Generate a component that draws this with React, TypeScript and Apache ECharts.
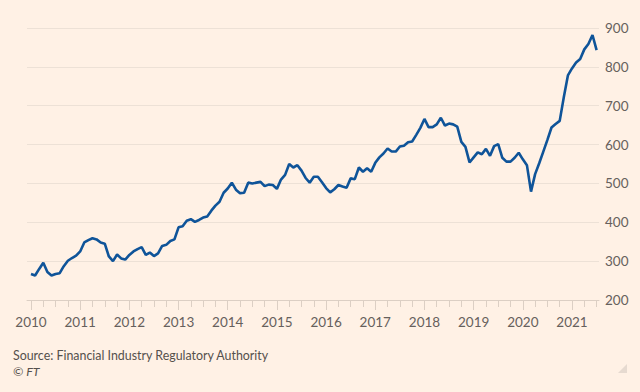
import { useEffect, useRef } from "react";
import * as echarts from "echarts";

// Monthly margin debt ($bn), Jan of each year onwards
const y2010 = [267, 263, 280, 296, 272, 263, 267, 269, 287, 301, 308, 314];
const y2011 = [325, 348, 354, 359, 356, 348, 345, 312, 300, 317, 307, 304];
const y2012 = [316, 325, 331, 336, 316, 322, 313, 320, 339, 342, 352, 356];
const y2013 = [387, 390, 404, 408, 401, 406, 412, 415, 430, 443, 453, 476];
const y2014 = [487, 502, 484, 475, 476, 502, 500, 502, 504, 493, 497, 496];
const y2015 = [486, 510, 522, 550, 541, 547, 533, 514, 502, 517, 517, 503];
const y2016 = [488, 477, 485, 496, 492, 489, 513, 511, 541, 530, 539, 530];
const y2017 = [553, 567, 577, 590, 582, 582, 595, 597, 606, 608, 625, 643];
const y2018 = [666, 645, 645, 652, 669, 649, 654, 652, 646, 607, 594, 554];
const y2019 = [567, 580, 575, 589, 571, 596, 601, 566, 556, 556, 566, 579];
const y2020 = [562, 547, 479, 524, 552, 582, 612, 644, 653, 661, 722, 778];
const y2021 = [796, 811, 820, 845, 859, 882, 843];

const yearSeries = [y2010, y2011, y2012, y2013, y2014, y2015, y2016, y2017, y2018, y2019, y2020, y2021];
const yearLabels = [2010, 2011, 2012, 2013, 2014, 2015, 2016, 2017, 2018, 2019, 2020, 2021];
const quarterTicks = [
  2010, 2010.25, 2010.5, 2010.75, 2011, 2011.25, 2011.5, 2011.75, 2012, 2012.25, 2012.5, 2012.75,
  2013, 2013.25, 2013.5, 2013.75, 2014, 2014.25, 2014.5, 2014.75, 2015, 2015.25, 2015.5, 2015.75,
  2016, 2016.25, 2016.5, 2016.75, 2017, 2017.25, 2017.5, 2017.75, 2018, 2018.25, 2018.5, 2018.75,
  2019, 2019.25, 2019.5, 2019.75, 2020, 2020.25, 2020.5, 2020.75, 2021, 2021.25, 2021.5,
];
const sourceText = "Source: Financial Industry Regulatory Authority";
const creditText = "© FT";

export default function App() {
  const ref = useRef<HTMLDivElement>(null);
  useEffect(() => {
    if (!ref.current) return;
    const chart = echarts.init(ref.current, undefined, { renderer: "svg" });
    const data: [number, number][] = [];
    yearSeries.forEach((vals, yi) => {
      vals.forEach((v, mi) => data.push([yearLabels[yi] + mi / 12, v]));
    });
    const textColor = "#66605c";
    const tickColor = "#dccfc4";
    const xMin = 2009.9187;
    const xMax = 2021.549;
    chart.setOption({
      animation: false,
      backgroundColor: "#fff1e5",
      grid: { left: 27, right: 41, top: 28, bottom: 92 },
      xAxis: [
        {
          type: "value",
          min: xMin,
          max: xMax,
          axisLine: { show: true, lineStyle: { color: tickColor, width: 1 } },
          axisTick: { show: true, customValues: quarterTicks, length: 7, lineStyle: { color: tickColor } },
          axisLabel: {
            customValues: yearLabels,
            formatter: (v: number) => String(Math.round(v)),
            color: textColor,
            fontSize: 13.5,
            fontFamily: "Lato",
            margin: 15,
          },
          splitLine: { show: false },
        },
        {
          type: "value",
          min: xMin,
          max: xMax,
          position: "bottom",
          axisLine: { show: false },
          axisTick: { show: true, customValues: yearLabels, length: 10, lineStyle: { color: tickColor } },
          axisLabel: { show: false },
          splitLine: { show: false },
        },
      ],
      yAxis: {
        type: "value",
        position: "right",
        min: 200,
        max: 900,
        interval: 100,
        axisLine: { show: false },
        axisTick: { show: false },
        axisLabel: { color: textColor, fontSize: 13.5, fontFamily: "Lato", margin: 6 },
        splitLine: { lineStyle: { color: "#ede1d6", width: 1 } },
      },
      series: [
        {
          type: "line",
          data,
          showSymbol: false,
          symbol: "none",
          lineStyle: { color: "#0f5499", width: 2.6 },
          z: 5,
        },
      ],
      graphic: [
        {
          type: "text",
          x: 13,
          y: 355,
          style: { text: sourceText, fill: "#55504c", fontSize: 12.4, fontFamily: "Lato", verticalAlign: "middle" },
        },
        {
          type: "text",
          x: 13,
          y: 371,
          style: { text: creditText, fill: "#55504c", fontSize: 12.4, fontFamily: "Lato", fontStyle: "italic", verticalAlign: "middle" },
        },
        {
          type: "polygon",
          shape: { points: [[627, 364], [627, 373], [618, 373]] },
          style: { fill: "#e6dad0" },
        },
      ],
    });
    return () => chart.dispose();
  }, []);
  return <div ref={ref} style={{ position: "fixed", left: 0, top: 0, width: 640, height: 392 }} />;
}
